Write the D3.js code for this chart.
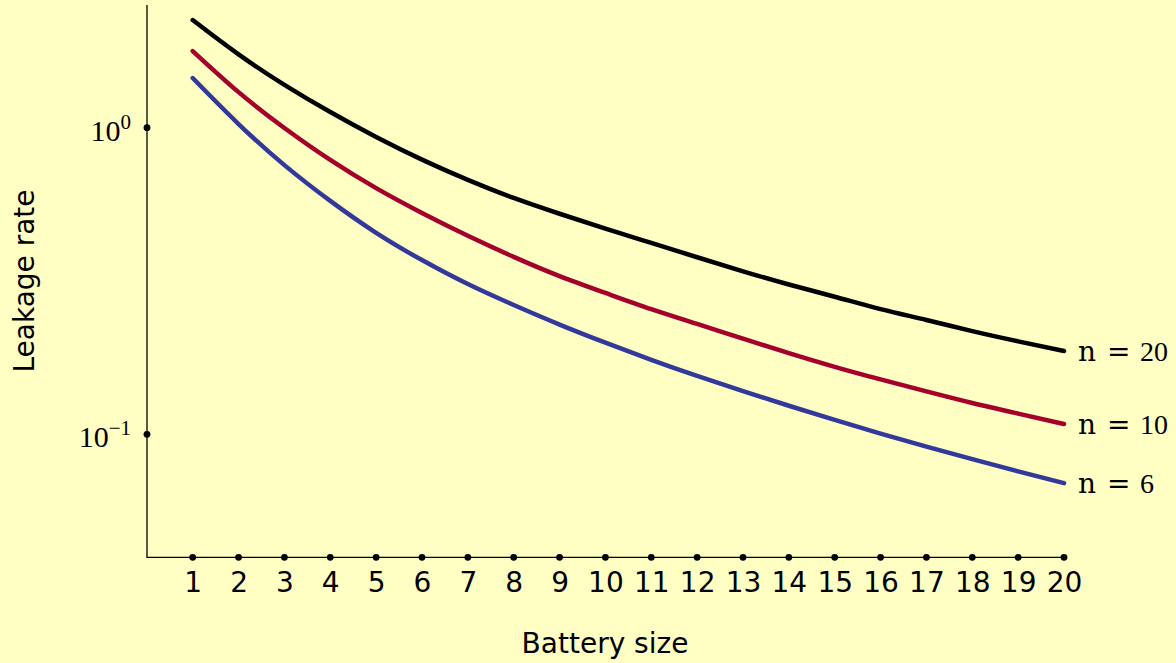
<!DOCTYPE html>
<html>
<head>
<meta charset="utf-8">
<script src="https://cdn.jsdelivr.net/npm/d3@7"></script>
<style>
  html, body { margin: 0; padding: 0; background: #ffffc4; }
  #chart { width: 1176px; height: 663px; }
  .axis-line { stroke: #000; stroke-width: 1.3; fill: none; }
  .tick-dot { fill: #000; }
  .sans { font-family: "DejaVu Sans", sans-serif; fill: #000; }
  .serif { font-family: "Liberation Serif", "DejaVu Serif", serif; fill: #000; }
  .line-path { fill: none; stroke-width: 4.5; stroke-linecap: round; stroke-linejoin: round; }
</style>
</head>
<body>
<div id="chart"></div>
<script>
// battery size 1..20
const batterySize = [1, 2, 3, 4, 5, 6, 7, 8, 9, 10, 11, 12, 13, 14, 15, 16, 17, 18, 19, 20];
// leakage rate (log axis)
const leakN20 = [2.244, 1.734, 1.380, 1.125, 0.933, 0.787, 0.676, 0.590, 0.524, 0.469,
                 0.421, 0.378, 0.340, 0.308, 0.281, 0.256, 0.236, 0.217, 0.201, 0.187];
const leakN10 = [1.778, 1.306, 0.998, 0.785, 0.635, 0.527, 0.444, 0.379, 0.328, 0.289,
                 0.256, 0.229, 0.205, 0.184, 0.166, 0.151, 0.138, 0.1265, 0.1168, 0.108];
const leakN6  = [1.452, 1.028, 0.755, 0.577, 0.454, 0.370, 0.309, 0.264, 0.228, 0.199,
                 0.175, 0.155, 0.1383, 0.1239, 0.1114, 0.1005, 0.0912, 0.0830, 0.0757, 0.0693];
const seriesN = ['20', '10', '6'];
const seriesColors = ['#000000', '#a5002b', '#33399b'];
const yTickValues = [1, 0.1];
const yTickExponents = ['0', '\u22121'];

const width = 1176, height = 663;

const svg = d3.select('#chart').append('svg')
    .attr('width', width)
    .attr('height', height);

svg.append('rect')
    .attr('width', width)
    .attr('height', height)
    .attr('fill', '#ffffc4');

const xScale = d3.scaleLinear()
    .domain([1, 20])
    .range([192.7, 1064]);

const yScale = d3.scaleLog()
    .domain([0.1, 1])
    .range([434.3, 127.7]);

const axisLeftX = 147, axisTopY = 5, axisBottomY = 557.3;

// axis lines
svg.append('path')
    .attr('class', 'axis-line')
    .attr('d', `M${axisLeftX},${axisTopY}V${axisBottomY}H${xScale(20)}`);

// x ticks
const xAxis = d3.axisBottom(xScale)
    .tickValues(batterySize)
    .tickSize(0)
    .tickPadding(15)
    .tickFormat(d3.format('d'));

const xAxisG = svg.append('g')
    .attr('transform', `translate(0,${axisBottomY})`)
    .call(xAxis);
xAxisG.select('.domain').remove();
xAxisG.selectAll('text')
    .attr('class', 'sans')
    .attr('dy', '0.71em')
    .style('font-size', '28px');

svg.append('g').selectAll('circle')
    .data(batterySize)
    .join('circle')
    .attr('class', 'tick-dot')
    .attr('cx', d => xScale(d))
    .attr('cy', axisBottomY)
    .attr('r', 3.4);

// y ticks (10^k)
svg.append('g').selectAll('circle')
    .data(yTickValues)
    .join('circle')
    .attr('class', 'tick-dot')
    .attr('cx', axisLeftX)
    .attr('cy', d => yScale(d))
    .attr('r', 3.4);

const yLabels = svg.append('g').selectAll('text')
    .data(yTickValues)
    .join('text')
    .attr('class', 'serif')
    .attr('x', 131)
    .attr('y', d => yScale(d) + 13)
    .attr('text-anchor', 'end')
    .style('font-size', '30px');
yLabels.append('tspan').text('10');
yLabels.append('tspan')
    .attr('dy', -12)
    .style('font-size', '21px')
    .text((d, i) => yTickExponents[i]);

// axis labels
svg.append('text')
    .attr('class', 'sans')
    .attr('x', 605)
    .attr('y', 653)
    .attr('text-anchor', 'middle')
    .style('font-size', '28px')
    .text('Battery size');

svg.append('text')
    .attr('class', 'sans')
    .attr('transform', 'translate(34,281) rotate(-90)')
    .attr('text-anchor', 'middle')
    .style('font-size', '28px')
    .text('Leakage rate');

// curves
const allSeries = [leakN20, leakN10, leakN6];

const lineGenerator = d3.line()
    .x((d, i) => xScale(batterySize[i]))
    .y(d => yScale(d))
    .curve(d3.curveNatural);

svg.append('g').selectAll('path')
    .data(allSeries)
    .join('path')
    .attr('class', 'line-path')
    .attr('stroke', (d, i) => seriesColors[i])
    .attr('d', d => lineGenerator(d));

// end labels  n = ..
const labelX = xScale(20) + 14;
const endLabels = svg.append('g').selectAll('text')
    .data(allSeries)
    .join('text')
    .attr('class', 'serif')
    .attr('y', d => yScale(d[d.length - 1]) + 10)
    .style('font-size', '28px');
endLabels.append('tspan')
    .attr('x', labelX)
    .style('font-family', '"DejaVu Serif", serif')
    .text('n');
endLabels.append('tspan')
    .attr('x', labelX + 29)
    .style('font-family', '"DejaVu Sans", sans-serif')
    .text('=');
endLabels.append('tspan')
    .attr('x', labelX + 62)
    .text((d, i) => seriesN[i]);
</script>
</body>
</html>
